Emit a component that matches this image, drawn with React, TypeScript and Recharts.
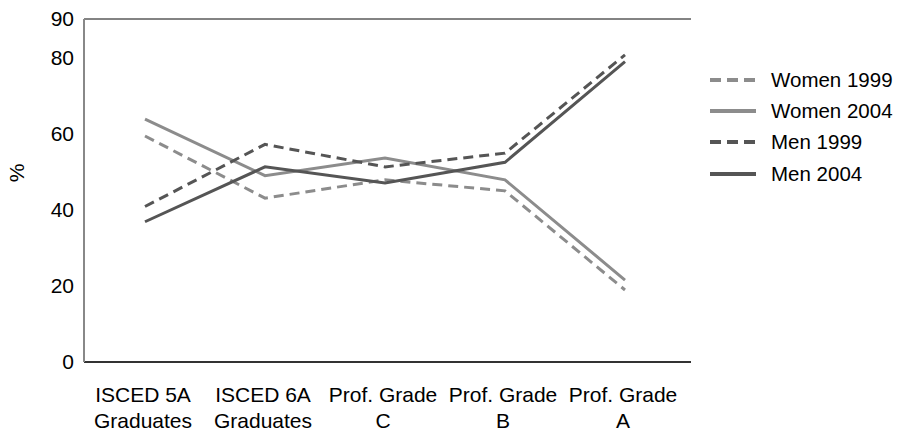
import React from "react";
import {
  LineChart,
  Line,
  XAxis,
  YAxis,
  CartesianGrid,
  ReferenceLine,
  Legend,
} from "recharts";

const categories = [
  "ISCED 5A Graduates",
  "ISCED 6A Graduates",
  "Prof. Grade C",
  "Prof. Grade B",
  "Prof. Grade A",
];
const labelLine1 = ["ISCED 5A", "ISCED 6A", "Prof. Grade", "Prof. Grade", "Prof. Grade"];
const labelLine2 = ["Graduates", "Graduates", "C", "B", "A"];

const women1999 = [59.3, 43.0, 47.8, 44.9, 18.9];
const women2004 = [63.7, 48.9, 53.5, 47.8, 21.5];
const men1999 = [40.8, 57.1, 51.2, 54.8, 80.6];
const men2004 = [36.8, 51.2, 47.0, 52.4, 78.8];

const yTicks = [0, 20, 40, 60, 80, 90];

const seriesNames = ["Women 1999", "Women 2004", "Men 1999", "Men 2004"];
const seriesKeys = ["w1999", "w2004", "m1999", "m2004"];
const seriesColors = ["#8c8c8c", "#8c8c8c", "#555555", "#555555"];
const seriesDashed = [true, false, true, false];

const data = categories.map((c, i) => ({
  cat: c,
  w1999: women1999[i],
  w2004: women2004[i],
  m1999: men1999[i],
  m2004: men2004[i],
}));

const FONT = '"Liberation Sans", Arial, sans-serif';
const FS = 21;

const XTick = (props: any) => {
  const { x, y, payload } = props;
  const i = payload.index;
  return (
    <g>
      <text x={x - 2} y={y + 32} textAnchor="middle" fontSize={FS} fontFamily={FONT} fill="#000">
        {labelLine1[i]}
      </text>
      <text x={x - 2} y={y + 58} textAnchor="middle" fontSize={FS} fontFamily={FONT} fill="#000">
        {labelLine2[i]}
      </text>
    </g>
  );
};

const renderLegend = () => (
  <div style={{ fontFamily: FONT, fontSize: 20.5, color: "#000", whiteSpace: "nowrap" }}>
    {seriesNames.map((n, i) => (
      <div key={n} style={{ display: "flex", alignItems: "center", height: 31.3 }}>
        <svg width={46} height={8} style={{ marginRight: 15, flex: "none" }}>
          <line
            x1={0}
            y1={4}
            x2={46}
            y2={4}
            stroke={seriesColors[i]}
            strokeWidth={4}
            strokeDasharray={seriesDashed[i] ? "11 6" : undefined}
          />
        </svg>
        <span>{n}</span>
      </div>
    ))}
  </div>
);

export default function App() {
  return (
    <div style={{ width: 886, height: 426, fontFamily: FONT }}>
      <LineChart
        width={886}
        height={426}
        data={data}
        margin={{ top: 11, right: 203, left: 0, bottom: 4 }}
      >
        <CartesianGrid vertical={false} stroke="#000" strokeWidth={1} />
        <XAxis
          dataKey="cat"
          height={68}
          tick={<XTick />}
          tickLine={false}
          axisLine={{ stroke: "#333", strokeWidth: 2 }}
          padding={{ left: 61, right: 66 }}
          interval={0}
        />
        <YAxis
          yAxisId="l"
          width={76}
          domain={[0, 90]}
          ticks={yTicks}
          interval={0}
          tickLine={false}
          tickMargin={4}
          axisLine={{ stroke: "#888", strokeWidth: 2 }}
          tick={{ fontSize: FS, fill: "#000", fontFamily: FONT }}
          label={{
            content: () => (
              <text
                x={8}
                y={165}
                transform="rotate(-90 8 165)"
                textAnchor="middle"
                dominantBaseline="central"
                fontSize={FS}
                fontFamily={FONT}
                fill="#000"
              >
                %
              </text>
            ),
          }}
        />
        <YAxis
          yAxisId="r"
          orientation="right"
          width={0}
          domain={[0, 90]}
          tick={false}
          tickLine={false}
          axisLine={{ stroke: "#888", strokeWidth: 2 }}
        />
        <ReferenceLine yAxisId="l" y={90} stroke="#888" strokeWidth={1} />
        {seriesKeys.map((k, i) => (
          <Line
            key={k}
            yAxisId="l"
            type="linear"
            dataKey={k}
            name={seriesNames[i]}
            stroke={seriesColors[i]}
            strokeWidth={3}
            strokeDasharray={seriesDashed[i] ? "10 6" : undefined}
            dot={false}
            activeDot={false}
            isAnimationActive={false}
          />
        ))}
        <Legend
          layout="vertical"
          align="center"
          verticalAlign="middle"
          content={renderLegend}
          wrapperStyle={{ left: 702, top: 56, width: 184 }}
        />
      </LineChart>
    </div>
  );
}
